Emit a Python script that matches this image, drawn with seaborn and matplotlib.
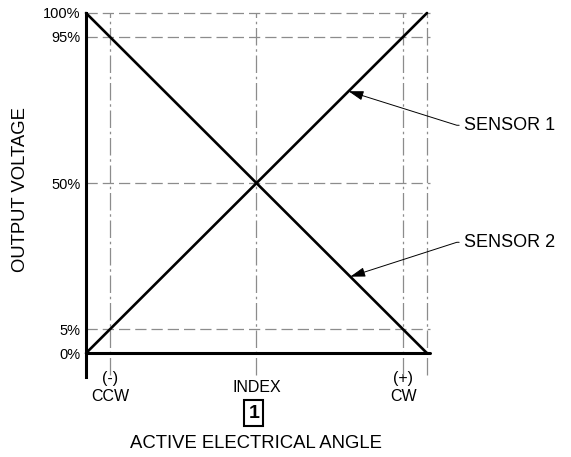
import matplotlib
matplotlib.use("Agg")
import matplotlib.pyplot as plt
import seaborn as sns
import pandas as pd

# ---- data ----
angle = [0, 100]                      # active electrical angle (schematic units)
sensor1 = [0, 100]                    # output voltage, sensor 1
sensor2 = [100, 0]                    # output voltage, sensor 2
x_ref_pos = [7, 50, 93, 100]          # reference (dash-dot) verticals
x_tick_pos = [7, 50, 93]
x_tick_labels = ["(-)\nCCW", "INDEX", "(+)\nCW"]
y_tick_pos = [0, 7, 50, 93, 100]
y_tick_labels = ["0%", "5%", "50%", "95%", "100%"]
y_ref_pos = [7, 50, 93, 100]
sensor_names = ["SENSOR 1", "SENSOR 2"]
arrow_x = [77.0, 77.5]                # where leaders touch the lines

sns.set_theme(style="white")
plt.rcParams["font.family"] = ["Liberation Sans", "DejaVu Sans"]

df = pd.DataFrame({
    "angle": angle * 2,
    "voltage": sensor1 + sensor2,
    "sensor": [sensor_names[0]] * 2 + [sensor_names[1]] * 2,
})

W, H = 571, 457
fig = plt.figure(figsize=(W / 100, H / 100), dpi=100)
ax_l, ax_r, ax_t, ax_b = 86, 430.4, 13, 377
ax = fig.add_axes([ax_l / W, 1 - ax_b / H, (ax_r - ax_l) / W, (ax_b - ax_t) / H])
ax.set_xlim(0, 101)
ax.set_ylim(-7, 100)

grid_c = "#8c8c8c"
for yv in y_ref_pos:
    ax.axhline(yv, color=grid_c, lw=0.9, ls=(0, (9, 4)), zorder=1, clip_on=False)
for xv in x_ref_pos:
    ax.axvline(xv, ymin=(-6.3 + 7) / 107, ymax=1, color=grid_c, lw=0.9,
               ls=(0, (14, 3, 2, 3)), zorder=1, clip_on=False)

sns.lineplot(data=df, x="angle", y="voltage", units="sensor", estimator=None,
             color="black", linewidth=1.9, ax=ax, legend=False, zorder=3)
for ln in ax.lines:
    ln.set_clip_on(False)

ax.axhline(0, color="black", lw=2.2, zorder=4, clip_on=False)

for s in ["top", "right", "bottom"]:
    ax.spines[s].set_visible(False)
ax.spines["left"].set_linewidth(2.2)
ax.spines["left"].set_color("black")

ax.set_yticks(y_tick_pos)
ax.set_yticklabels(y_tick_labels)
ax.set_xticks(x_tick_pos)
ax.set_xticklabels(x_tick_labels, va="center", linespacing=1.25)
ax.tick_params(axis="y", length=0, pad=4, labelsize=10.5, labelcolor="black")
ax.tick_params(axis="x", length=0, pad=7.5, labelsize=11.5, labelcolor="black")

ax.set_ylabel("OUTPUT VOLTAGE", fontsize=13.3, color="black")
ax.yaxis.set_label_coords(-0.165, 0.514)
ax.set_xlabel("ACTIVE ELECTRICAL ANGLE", fontsize=13.3, color="black")
ax.xaxis.set_label_coords(0.494, -0.158)

ax.text(49.2, -17.6, "1", ha="center", va="center", fontsize=14, fontweight="bold",
        color="black",
        bbox=dict(boxstyle="square,pad=0.22", fc="white", ec="black", lw=1.5))

text_y = [67.0, 32.6]
for i, name in enumerate(sensor_names):
    yv = arrow_x[i] if i == 0 else 100 - arrow_x[i]
    ax.annotate(name, xy=(arrow_x[i], yv), xytext=(110.8, text_y[i]),
                fontsize=13, color="black", ha="left", va="center",
                annotation_clip=False,
                arrowprops=dict(arrowstyle="-|>,head_length=0.7,head_width=0.22",
                                color="black", lw=0.7, shrinkA=1, shrinkB=0,
                                relpos=(0, 0.5),
                                connectionstyle="arc,angleA=180,armA=7,angleB=0,armB=0,rad=0"))

fig.savefig("out.png", dpi=100)
